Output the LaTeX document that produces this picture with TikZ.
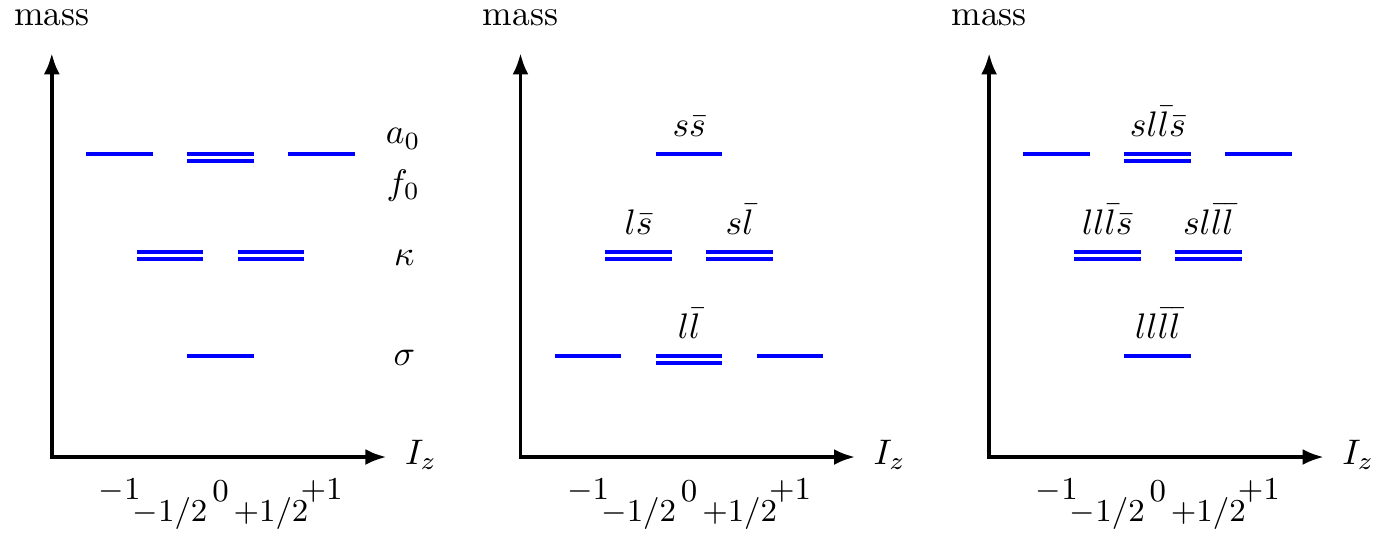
\documentclass[tikz,border=0pt]{standalone}
\usetikzlibrary{arrows.meta}
\tikzset{
  level/.style={blue,line width=1pt},
  axis/.style={line width=1.1pt,<->},
  tick/.style={font=\small},
}
\newcommand{\lev}[2]{\draw[level] (#1-0.33,#2) -- (#1+0.33,#2);}
\newcommand{\dlev}[2]{\draw[level] (#1-0.33,#2) -- (#1+0.33,#2) (#1-0.33,#2-0.07) -- (#1+0.33,#2-0.07);}
\begin{document}
\begin{tikzpicture}[>={Latex[length=6pt,width=4.5pt]}]
\useasboundingbox (-2.183,-0.752) rectangle (11.45,4.525);
\foreach \p/\s in {1/0,2/4.64,3/9.28}{
\begin{scope}[xshift=\s cm]
\coordinate (o\p) at (-1.67,0);
\coordinate (y\p) at (-1.67,4);
\coordinate (x\p) at (1.645,0);
\draw[axis] (y\p) -- (o\p) -- (x\p);
\node (mass\p) at (-1.67,4.35) {mass};
\node (iz\p) at (1.985,0.02) {$I_z$};
\node[tick] (m1\p) at (-1,-0.335) {$-1$};
\node[tick] (mh\p) at (-0.5,-0.555) {$-1/2$};
\node[tick] (z\p) at (0,-0.335) {$0$};
\node[tick] (ph\p) at (0.5,-0.555) {$+1/2$};
\node[tick] (p1\p) at (1,-0.335) {$+1$};
\end{scope}
}
\lev{-1}{3}
\dlev{0}{3}
\lev{1}{3}
\dlev{-0.5}{2.03}
\dlev{0.5}{2.03}
\lev{0}{1}
\node (a0) at (1.81,3.15) {$a_0$};
\node (f0) at (1.81,2.69) {$f_0$};
\node (kappa) at (1.82,1.975) {$\kappa$};
\node (sigma) at (1.82,0.985) {$\sigma$};
\begin{scope}[xshift=4.64cm]
\lev{0}{3}
\dlev{-0.5}{2.03}
\dlev{0.5}{2.03}
\lev{-1}{1}
\dlev{0}{1}
\lev{1}{1}
\node[anchor=base] (ss) at (0,3.175) {$s\bar s$};
\node[anchor=base] (ls) at (-0.5,2.205) {$l\bar s$};
\node[anchor=base] (sl) at (0.5,2.205) {$s\bar l$};
\node[anchor=base] (ll) at (0,1.175) {$l\bar l$};
\end{scope}
\begin{scope}[xshift=9.28cm]
\lev{-1}{3}
\dlev{0}{3}
\lev{1}{3}
\dlev{-0.5}{2.03}
\dlev{0.5}{2.03}
\lev{0}{1}
\node[anchor=base] (slls) at (0,3.175) {$sl\bar l\bar s$};
\node[anchor=base] (llls) at (-0.5,2.205) {$ll\bar l\bar s$};
\node[anchor=base] (slll) at (0.5,2.205) {$sl\bar l\bar l$};
\node[anchor=base] (llll) at (0,1.175) {$ll\bar l\bar l$};
\end{scope}
\end{tikzpicture}
\end{document}
